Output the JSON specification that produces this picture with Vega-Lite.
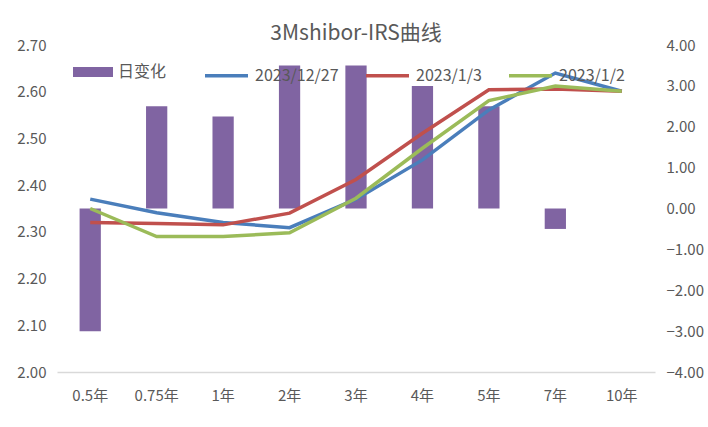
{
  "$schema": "https://vega.github.io/schema/vega-lite/v6.json",
  "autosize": {"type": "none"},
  "width": 598,
  "height": 327,
  "padding": {"left": 57, "top": 45, "right": 53, "bottom": 55},
  "background": "white",
  "config": {
    "font": "Noto Sans CJK SC",
    "view": {"stroke": null}
  },
  "title": {
    "text": "3Mshibor-IRS曲线",
    "fontSize": 21,
    "fontWeight": "normal",
    "color": "#595959",
    "anchor": "middle",
    "offset": -6
  },
  "datasets": {
    "bars": [
      {"tenor": "0.5年", "chg": -3.0},
      {"tenor": "0.75年", "chg": 2.5},
      {"tenor": "1年", "chg": 2.25},
      {"tenor": "2年", "chg": 3.5},
      {"tenor": "3年", "chg": 3.5},
      {"tenor": "4年", "chg": 3.0},
      {"tenor": "5年", "chg": 2.5},
      {"tenor": "7年", "chg": -0.5},
      {"tenor": "10年", "chg": 0.0}
    ],
    "lines": [
      {"tenor": "0.5年", "series": "2023/12/27", "rate": 2.370},
      {"tenor": "0.75年", "series": "2023/12/27", "rate": 2.341},
      {"tenor": "1年", "series": "2023/12/27", "rate": 2.320},
      {"tenor": "2年", "series": "2023/12/27", "rate": 2.309},
      {"tenor": "3年", "series": "2023/12/27", "rate": 2.370},
      {"tenor": "4年", "series": "2023/12/27", "rate": 2.454},
      {"tenor": "5年", "series": "2023/12/27", "rate": 2.561},
      {"tenor": "7年", "series": "2023/12/27", "rate": 2.640},
      {"tenor": "10年", "series": "2023/12/27", "rate": 2.601},
      {"tenor": "0.5年", "series": "2023/1/3", "rate": 2.320},
      {"tenor": "0.75年", "series": "2023/1/3", "rate": 2.318},
      {"tenor": "1年", "series": "2023/1/3", "rate": 2.315},
      {"tenor": "2年", "series": "2023/1/3", "rate": 2.340},
      {"tenor": "3年", "series": "2023/1/3", "rate": 2.412},
      {"tenor": "4年", "series": "2023/1/3", "rate": 2.511},
      {"tenor": "5年", "series": "2023/1/3", "rate": 2.604},
      {"tenor": "7年", "series": "2023/1/3", "rate": 2.606},
      {"tenor": "10年", "series": "2023/1/3", "rate": 2.601},
      {"tenor": "0.5年", "series": "2023/1/2", "rate": 2.350},
      {"tenor": "0.75年", "series": "2023/1/2", "rate": 2.290},
      {"tenor": "1年", "series": "2023/1/2", "rate": 2.290},
      {"tenor": "2年", "series": "2023/1/2", "rate": 2.298},
      {"tenor": "3年", "series": "2023/1/2", "rate": 2.372},
      {"tenor": "4年", "series": "2023/1/2", "rate": 2.479},
      {"tenor": "5年", "series": "2023/1/2", "rate": 2.581},
      {"tenor": "7年", "series": "2023/1/2", "rate": 2.612},
      {"tenor": "10年", "series": "2023/1/2", "rate": 2.601}
    ]
  },
  "encoding": {
    "x": {
      "field": "tenor",
      "type": "ordinal",
      "sort": ["0.5年", "0.75年", "1年", "2年", "3年", "4年", "5年", "7年", "10年"],
      "scale": {"paddingInner": 0.68, "paddingOuter": 0.34},
      "axis": {
        "title": null,
        "labelAngle": 0,
        "labelFontSize": 15,
        "labelColor": "#595959",
        "labelPadding": 16,
        "ticks": false,
        "domainColor": "#d9d9d9",
        "domainWidth": 1.5
      }
    }
  },
  "layer": [
    {
      "data": {"name": "bars"},
      "mark": {"type": "bar"},
      "encoding": {
        "y": {
          "field": "chg",
          "type": "quantitative",
          "scale": {"domain": [-4, 4], "nice": false},
          "axis": {
            "orient": "right",
            "title": null,
            "values": [-4, -3, -2, -1, 0, 1, 2, 3, 4],
            "format": ".2f",
            "grid": false,
            "domain": false,
            "ticks": false,
            "labelPadding": 11,
            "labelFontSize": 15,
            "labelColor": "#595959"
          }
        },
        "fill": {
          "datum": "日变化",
          "type": "nominal",
          "scale": {"domain": ["日变化"], "range": ["#8064A2"]},
          "legend": {
            "title": null,
            "orient": "none",
            "legendX": 16,
            "legendY": 7,
            "padding": 0,
            "zindex": 0,
            "symbolType": "M-1,-0.25H1V0.25H-1Z",
            "symbolSize": 1600,
            "symbolStrokeWidth": 0,
            "labelFontSize": 16,
            "labelColor": "#595959",
            "labelOffset": 5
          }
        }
      }
    },
    {
      "data": {"name": "lines"},
      "mark": {"type": "line", "strokeWidth": 3.5},
      "encoding": {
        "y": {
          "field": "rate",
          "type": "quantitative",
          "scale": {"domain": [2.0, 2.7], "nice": false, "zero": false},
          "axis": {
            "orient": "left",
            "title": null,
            "values": [2.0, 2.1, 2.2, 2.3, 2.4, 2.5, 2.6, 2.7],
            "format": ".2f",
            "grid": false,
            "domain": false,
            "ticks": false,
            "labelPadding": 11,
            "labelFontSize": 15,
            "labelColor": "#595959"
          }
        },
        "stroke": {
          "field": "series",
          "type": "nominal",
          "sort": ["2023/12/27", "2023/1/3", "2023/1/2"],
          "scale": {
            "domain": ["2023/12/27", "2023/1/3", "2023/1/2"],
            "range": ["#4A7EBB", "#C0504D", "#9BBB59"]
          },
          "legend": {
            "title": null,
            "orient": "none",
            "direction": "horizontal",
            "legendX": 146,
            "legendY": 7,
            "padding": 0,
            "zindex": 0,
            "symbolType": "stroke",
            "symbolSize": 1849,
            "symbolStrokeWidth": 3.5,
            "labelFontSize": 16,
            "labelColor": "#595959",
            "labelOffset": 5,
            "columnPadding": 20
          }
        },
        "order": {"field": "series"}
      }
    }
  ],
  "resolve": {"scale": {"y": "independent"}}
}
